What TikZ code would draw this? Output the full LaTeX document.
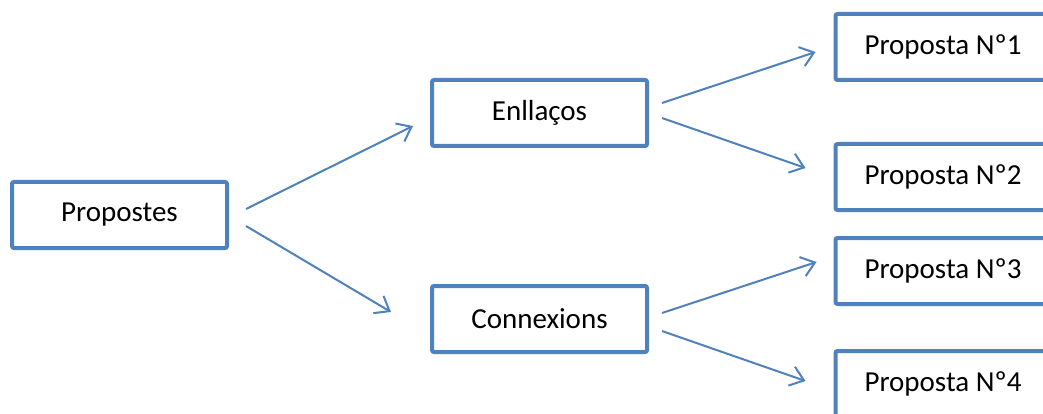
\documentclass[tikz,border=0pt]{standalone}
\usepackage{fontspec}
\setmainfont{Carlito}
\usetikzlibrary{arrows.meta,calc}
\definecolor{boxblue}{HTML}{4F81BD}
\tikzset{
  box/.style={draw=boxblue, line width=4pt, rounded corners=2pt, fill=white,
    minimum width=215pt, minimum height=66pt, inner sep=0pt,
    font=\fontsize{29}{34}\selectfont},
  arr/.style={draw=boxblue, line width=2pt,
    -{Straight Barb[length=13pt,width=20pt,line width=2pt]}}
}
\begin{document}
\begin{tikzpicture}[x=1pt,y=-1pt]
\useasboundingbox (0,0) rectangle (1043,414);
% tree of proposals
\node[box] (pro) at (119.5,215) {Propostes};
\node[box] (enl) at (539.5,113) {Enllaços};
\node[box] (con) at (539.5,319) {Connexions};
\node[box] (p1) at (943,47) {Proposta Nº1};
\node[box] (p2) at (943,177) {Proposta Nº2};
\node[box] (p3) at (943,271) {Proposta Nº3};
\node[box] (p4) at (943,384) {Proposta Nº4};
% connectors
\draw[arr] ($(pro.east)+(17,-6)$) -- ($(enl.west)+(-17,13)$);
\draw[arr] ($(pro.east)+(17,11)$) -- ($(con.west)+(-39,-7)$);
\draw[arr] ($(enl.east)+(13,-10)$) -- ($(p1.west)+(-18,5)$);
\draw[arr] ($(enl.east)+(13,5)$) -- ($(p2.west)+(-28,-9)$);
\draw[arr] ($(con.east)+(13,-6)$) -- ($(p3.west)+(-17,-9)$);
\draw[arr] ($(con.east)+(13,12)$) -- ($(p4.west)+(-28,-3)$);
\end{tikzpicture}
\end{document}
